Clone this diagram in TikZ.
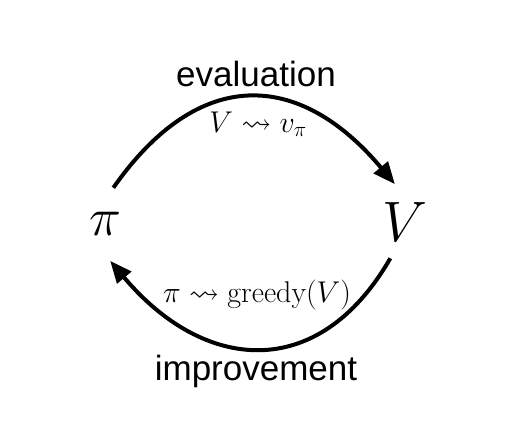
\RequirePackage{fix-cm}
\documentclass[tikz,border=0pt]{standalone}
\usepackage{amssymb}
\usepackage{amsmath}
\usepackage{fontspec}
\setsansfont{Liberation Sans}
\usetikzlibrary{arrows.meta}

\begin{document}
\begin{tikzpicture}[x=1pt,y=1pt]
\tikzstyle{every node}+=[inner sep=0pt]
\tikzstyle{cyclearrow}=[black, line width=4pt, -{Triangle[length=22pt,width=18pt]}]
\tikzstyle{wordlabel}=[anchor=base, font=\sffamily\fontsize{35}{40}\selectfont]
\tikzstyle{mathlabel}=[anchor=base, font=\fontsize{30}{34}\selectfont]
\useasboundingbox (0,0) rectangle (515,-428);
\draw (105,-224) node [circle, minimum size=74pt] (pi) {\fontsize{54}{60}\selectfont$\pi$};
\draw (405,-222) node [circle, minimum size=78pt] (V) {\fontsize{57}{62}\selectfont$V$};
\draw (256,-87) node [wordlabel] (evalword) {evaluation};
\draw (256,-380) node [wordlabel] (improveword) {improvement};
\draw (258,-132) node [mathlabel] (evalmath) {$V \rightsquigarrow v_\pi$};
\draw (257,-302) node [mathlabel] (improvemath) {$\pi \rightsquigarrow \mathrm{greedy}(V)$};
\draw [cyclearrow] (pi.77) to [out=55, in=130, looseness=1.35] (V.105);
\draw [cyclearrow] (V.248) to [out=240, in=-50, looseness=1.32] (pi.278);
\end{tikzpicture}
\end{document}
